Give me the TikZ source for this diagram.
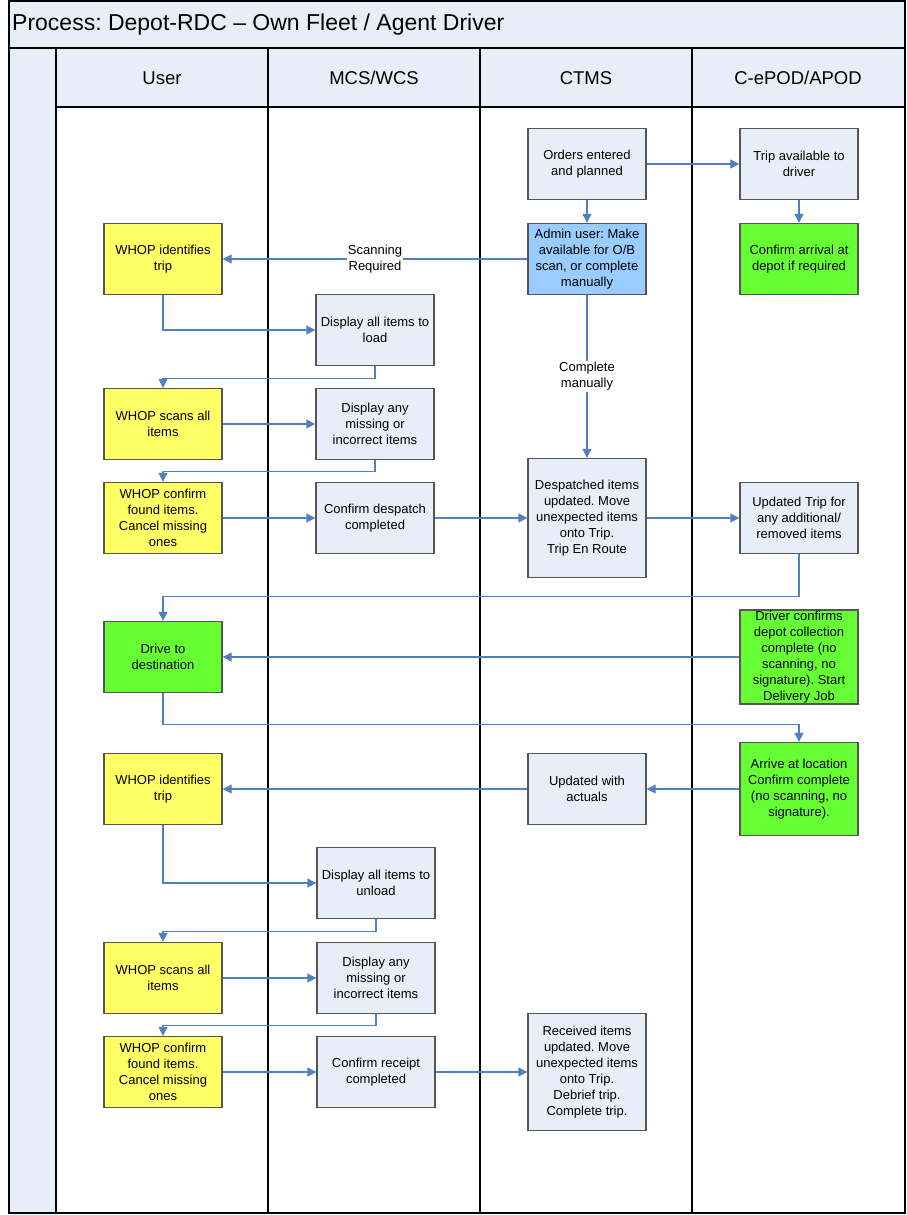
\documentclass[tikz,border=0pt]{standalone}
\usepackage{fontspec}
\setmainfont{Liberation Sans}
\usetikzlibrary{arrows.meta}
\frenchspacing
\definecolor{lanebg}{HTML}{E8EEF7}
\definecolor{boxgrey}{HTML}{E8EEF7}
\definecolor{yel}{HTML}{FFFF66}
\definecolor{grn}{HTML}{66FF33}
\definecolor{lblue}{HTML}{99CCFF}
\definecolor{conncol}{HTML}{4F81BD}
\definecolor{boxline}{HTML}{555555}
\begin{document}
\frenchspacing
\begin{tikzpicture}[x=1pt,y=-1pt,
  proc/.style={draw=boxline, line width=1.3pt, fill=boxgrey, minimum width=118pt, minimum height=71pt, inner sep=0pt, align=center, font=\fontsize{13}{16}\selectfont},
  user/.style={proc, fill=yel},
  drv/.style={proc, fill=grn},
  adm/.style={proc, fill=lblue},
  conn/.style={draw=conncol, line width=1.1pt, -{Triangle[length=9pt,width=9pt]}},
  lbl/.style={fill=white, inner sep=1pt, align=center, font=\fontsize{13}{16}\selectfont},
  lane/.style={line width=1.2pt, black},
  hdr/.style={font=\fontsize{18.5}{20}\selectfont}]
\useasboundingbox (0,0) rectangle (906,1215);
% backgrounds
\fill[lanebg] (9,1) rectangle (905,48);
\fill[lanebg] (9,48) rectangle (56,1213);
\fill[lanebg] (56,48) rectangle (905,107);
% lines
\draw[lane] (9,1) rectangle (905,1213);
\draw[lane] (9,48) -- (905,48);
\draw[lane] (56,107) -- (905,107);
\foreach \x in {56,268,480,692} \draw[lane] (\x,48) -- (\x,1213);
% title and headers
\node[anchor=west, inner sep=0pt, font=\fontsize{23}{25}\selectfont] (title) at (12,25) {Process: Depot-RDC -- Own Fleet / Agent Driver};
\node[hdr] (hUser) at (162,78) {User};
\node[hdr] (hMcs) at (374,78) {MCS/WCS};
\node[hdr] (hCtms) at (586,78) {CTMS};
\node[hdr] (hPod) at (798,78) {C-ePOD/APOD};
% boxes
\node[proc] (orders) at (587,164) {Orders entered\\and planned};
\node[proc] (tripav) at (799,164) {Trip available to\\driver};
\node[adm] (admin) at (587,259) {Admin user: Make\\available for O/B\\scan, or complete\\manually};
\node[drv] (arrdep) at (799,259) {Confirm arrival at\\depot if required};
\node[user] (whopA) at (163,259) {WHOP identifies\\trip};
\node[proc] (dispload) at (375,330) {Display all items to\\load};
\node[user] (scanA) at (163,424) {WHOP scans all\\items};
\node[proc] (missA) at (375,424) {Display any\\missing or\\incorrect items};
\node[user] (confA) at (163,518) {WHOP confirm\\found items.\\Cancel missing\\ones};
\node[proc] (desp) at (375,518) {Confirm despatch\\completed};
\node[proc, minimum height=119pt] (despupd) at (587,518) {Despatched items\\updated. Move\\unexpected items\\onto Trip.\\Trip En Route};
\node[proc] (updtrip) at (799,518) {Updated Trip for\\any additional/\\removed items};
\node[drv] (drive) at (163,657) {Drive to\\destination};
\node[drv, minimum height=94pt] (drvconf) at (799,657) {Driver confirms\\depot collection\\complete (no\\scanning, no\\signature). Start\\Delivery Job};
\node[drv, minimum height=93pt] (arrive) at (799,789) {Arrive at location\\Confirm complete\\(no scanning, no\\signature).};
\node[proc] (actuals) at (587,789) {Updated with\\actuals};
\node[user] (whopB) at (163,789) {WHOP identifies\\trip};
\node[proc] (dispunl) at (376,883) {Display all items to\\unload};
\node[user] (scanB) at (163,978) {WHOP scans all\\items};
\node[proc] (missB) at (376,978) {Display any\\missing or\\incorrect items};
\node[user] (confB) at (163,1072) {WHOP confirm\\found items.\\Cancel missing\\ones};
\node[proc] (rcpt) at (376,1072) {Confirm receipt\\completed};
\node[proc, minimum height=117pt] (recv) at (587,1072) {Received items\\updated. Move\\unexpected items\\onto Trip.\\Debrief trip.\\Complete trip.};
% connectors
\draw[conn] (orders) -- (tripav);
\draw[conn] (orders) -- (admin);
\draw[conn] (tripav) -- (arrdep);
\draw[conn] (admin) -- node[lbl] {Scanning\\Required} (whopA);
\draw[conn] (admin) -- node[lbl] {Complete\\manually} (despupd);
\draw[conn] (whopA.south) |- (dispload.west);
\draw[conn] (dispload.south) -- ++(0,12) -| (scanA.north);
\draw[conn] (scanA) -- (missA);
\draw[conn] (missA.south) -- ++(0,11) -| (confA.north);
\draw[conn] (confA) -- (desp);
\draw[conn] (desp) -- (despupd);
\draw[conn] (despupd) -- (updtrip);
\draw[conn] (updtrip.south) -- ++(0,42) -| (drive.north);
\draw[conn] (drvconf) -- (drive);
\draw[conn] (drive.south) -- ++(0,31) -| (arrive.north);
\draw[conn] (arrive) -- (actuals);
\draw[conn] (actuals) -- (whopB);
\draw[conn] (whopB.south) |- (dispunl.west);
\draw[conn] (dispunl.south) -- ++(0,12) -| (scanB.north);
\draw[conn] (scanB) -- (missB);
\draw[conn] (missB.south) -- ++(0,11) -| (confB.north);
\draw[conn] (confB) -- (rcpt);
\draw[conn] (rcpt) -- (recv);
\end{tikzpicture}
\end{document}
